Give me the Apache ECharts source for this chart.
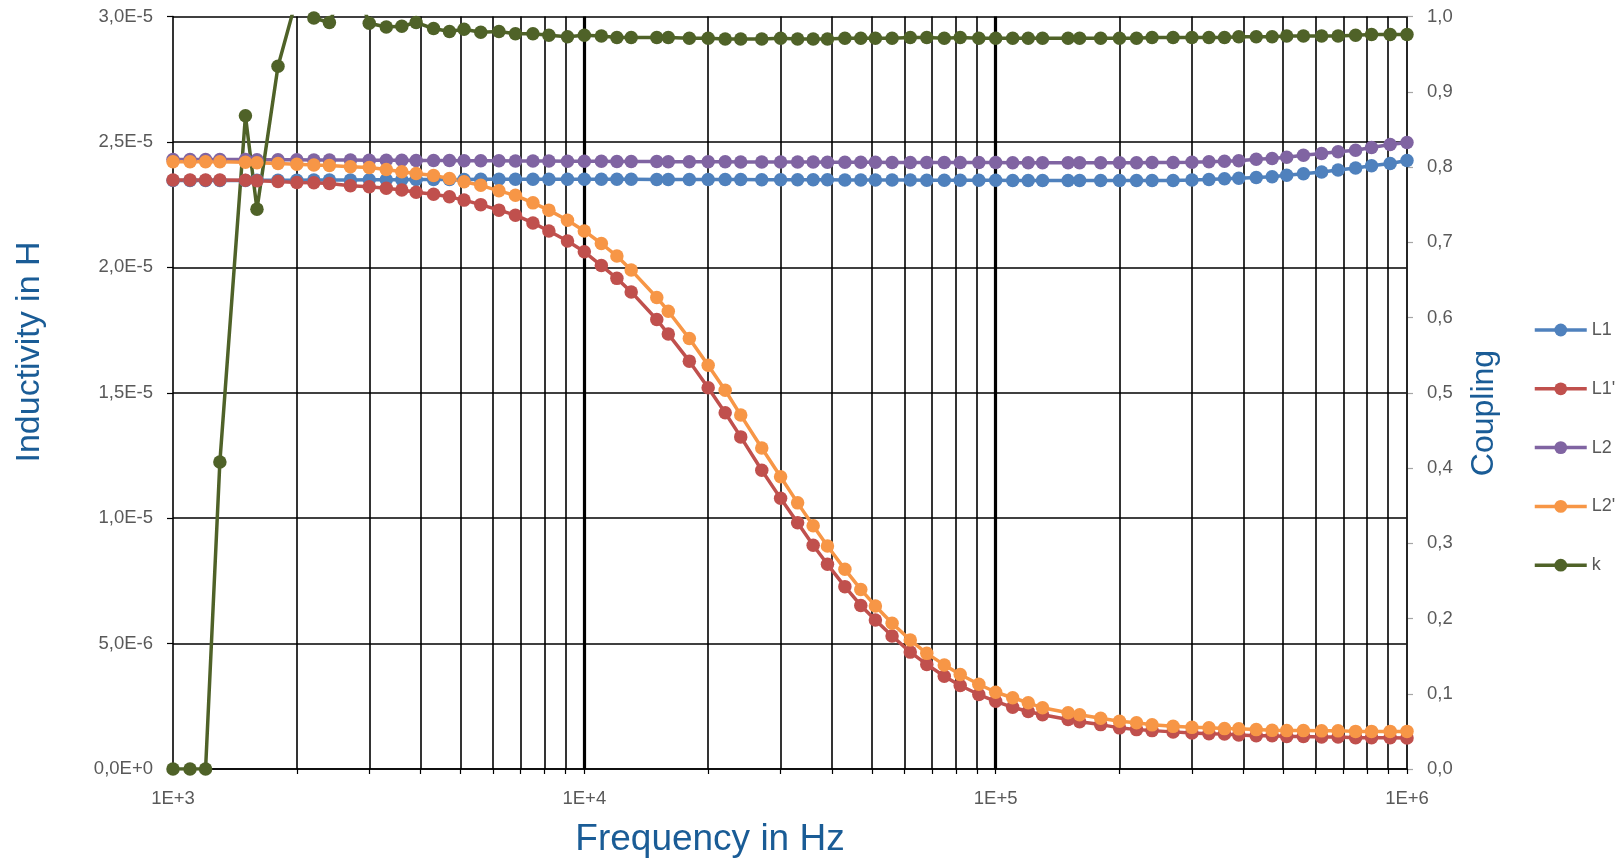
<!DOCTYPE html>
<html>
<head>
<meta charset="utf-8">
<script src="https://cdn.jsdelivr.net/npm/echarts@6/dist/echarts.min.js"></script>
<style>
  html, body { margin: 0; padding: 0; background: #fff; }
  #chart { width: 1616px; height: 867px; }
</style>
</head>
<body>
<div id="chart"></div>
<script>
// frequency points (Hz), E24 steps per decade
var freq = [
  1000, 1100, 1200, 1300, 1500, 1600, 1800, 2000, 2200, 2400, 2700, 3000,
  3300, 3600, 3900, 4300, 4700, 5100, 5600, 6200, 6800, 7500, 8200, 9100,
  10000, 11000, 12000, 13000, 15000, 16000, 18000, 20000, 22000, 24000, 27000, 30000,
  33000, 36000, 39000, 43000, 47000, 51000, 56000, 62000, 68000, 75000, 82000, 91000,
  100000, 110000, 120000, 130000, 150000, 160000, 180000, 200000, 220000, 240000, 270000, 300000,
  330000, 360000, 390000, 430000, 470000, 510000, 560000, 620000, 680000, 750000, 820000, 910000,
  1000000
];

// inductivities in H
var L1 = [
  23.46e-6, 23.46e-6, 23.46e-6, 23.46e-6, 23.46e-6, 23.47e-6, 23.47e-6, 23.47e-6, 23.48e-6, 23.48e-6, 23.48e-6, 23.49e-6,
  23.49e-6, 23.49e-6, 23.50e-6, 23.50e-6, 23.50e-6, 23.50e-6, 23.51e-6, 23.51e-6, 23.51e-6, 23.51e-6, 23.51e-6, 23.51e-6,
  23.51e-6, 23.51e-6, 23.51e-6, 23.51e-6, 23.50e-6, 23.50e-6, 23.50e-6, 23.50e-6, 23.50e-6, 23.50e-6, 23.49e-6, 23.49e-6,
  23.49e-6, 23.49e-6, 23.49e-6, 23.48e-6, 23.48e-6, 23.48e-6, 23.48e-6, 23.48e-6, 23.47e-6, 23.47e-6, 23.47e-6, 23.47e-6,
  23.47e-6, 23.46e-6, 23.46e-6, 23.46e-6, 23.46e-6, 23.46e-6, 23.46e-6, 23.46e-6, 23.46e-6, 23.46e-6, 23.46e-6, 23.48e-6,
  23.50e-6, 23.53e-6, 23.55e-6, 23.58e-6, 23.61e-6, 23.67e-6, 23.73e-6, 23.80e-6, 23.88e-6, 23.96e-6, 24.05e-6, 24.14e-6,
  24.26e-6
];
var L1s = [
  23.48e-6, 23.48e-6, 23.48e-6, 23.48e-6, 23.47e-6, 23.45e-6, 23.42e-6, 23.38e-6, 23.37e-6, 23.34e-6, 23.25e-6, 23.21e-6,
  23.15e-6, 23.08e-6, 22.99e-6, 22.91e-6, 22.81e-6, 22.68e-6, 22.50e-6, 22.28e-6, 22.08e-6, 21.77e-6, 21.45e-6, 21.05e-6,
  20.62e-6, 20.07e-6, 19.56e-6, 19.02e-6, 17.92e-6, 17.34e-6, 16.26e-6, 15.20e-6, 14.20e-6, 13.24e-6, 11.91e-6, 10.79e-6,
  9.82e-6, 8.92e-6, 8.16e-6, 7.27e-6, 6.52e-6, 5.94e-6, 5.30e-6, 4.66e-6, 4.17e-6, 3.70e-6, 3.33e-6, 2.97e-6,
  2.70e-6, 2.46e-6, 2.29e-6, 2.16e-6, 1.97e-6, 1.88e-6, 1.77e-6, 1.64e-6, 1.57e-6, 1.53e-6, 1.48e-6, 1.44e-6,
  1.41e-6, 1.40e-6, 1.36e-6, 1.33e-6, 1.33e-6, 1.30e-6, 1.30e-6, 1.28e-6, 1.28e-6, 1.25e-6, 1.25e-6, 1.25e-6,
  1.24e-6
];
var L2 = [
  24.30e-6, 24.30e-6, 24.30e-6, 24.30e-6, 24.30e-6, 24.29e-6, 24.29e-6, 24.29e-6, 24.28e-6, 24.28e-6, 24.28e-6, 24.27e-6,
  24.27e-6, 24.27e-6, 24.26e-6, 24.26e-6, 24.26e-6, 24.25e-6, 24.25e-6, 24.25e-6, 24.24e-6, 24.24e-6, 24.24e-6, 24.23e-6,
  24.23e-6, 24.23e-6, 24.22e-6, 24.22e-6, 24.22e-6, 24.21e-6, 24.21e-6, 24.21e-6, 24.21e-6, 24.20e-6, 24.20e-6, 24.20e-6,
  24.20e-6, 24.20e-6, 24.19e-6, 24.19e-6, 24.19e-6, 24.19e-6, 24.18e-6, 24.18e-6, 24.18e-6, 24.18e-6, 24.18e-6, 24.18e-6,
  24.18e-6, 24.17e-6, 24.17e-6, 24.17e-6, 24.17e-6, 24.17e-6, 24.17e-6, 24.17e-6, 24.17e-6, 24.18e-6, 24.18e-6, 24.19e-6,
  24.21e-6, 24.23e-6, 24.25e-6, 24.31e-6, 24.34e-6, 24.39e-6, 24.47e-6, 24.54e-6, 24.61e-6, 24.67e-6, 24.78e-6, 24.90e-6,
  24.98e-6
];
var L2s = [
  24.21e-6, 24.21e-6, 24.21e-6, 24.21e-6, 24.19e-6, 24.17e-6, 24.14e-6, 24.11e-6, 24.08e-6, 24.06e-6, 24.01e-6, 23.98e-6,
  23.90e-6, 23.81e-6, 23.74e-6, 23.66e-6, 23.54e-6, 23.41e-6, 23.27e-6, 23.05e-6, 22.87e-6, 22.57e-6, 22.28e-6, 21.88e-6,
  21.45e-6, 20.95e-6, 20.45e-6, 19.89e-6, 18.80e-6, 18.25e-6, 17.16e-6, 16.10e-6, 15.10e-6, 14.11e-6, 12.80e-6, 11.65e-6,
  10.61e-6, 9.70e-6, 8.89e-6, 7.96e-6, 7.16e-6, 6.50e-6, 5.81e-6, 5.14e-6, 4.61e-6, 4.15e-6, 3.77e-6, 3.38e-6,
  3.06e-6, 2.84e-6, 2.64e-6, 2.44e-6, 2.24e-6, 2.16e-6, 2.02e-6, 1.90e-6, 1.84e-6, 1.76e-6, 1.70e-6, 1.66e-6,
  1.64e-6, 1.61e-6, 1.60e-6, 1.57e-6, 1.54e-6, 1.53e-6, 1.53e-6, 1.52e-6, 1.52e-6, 1.50e-6, 1.50e-6, 1.50e-6,
  1.50e-6
];
// coupling factor (right axis), values above 1 are cut off at the top like in the original
var k = [
  0, 0, 0, 0.408, 0.868, 0.744, 0.934, 1.025, 0.998, 0.992, 1.06, 0.991,
  0.986, 0.987, 0.992, 0.984, 0.980, 0.983, 0.979, 0.980, 0.977, 0.977, 0.975, 0.973,
  0.975, 0.974, 0.972, 0.972, 0.972, 0.972, 0.971, 0.971, 0.970, 0.970, 0.970, 0.971,
  0.970, 0.970, 0.970, 0.971, 0.971, 0.971, 0.971, 0.972, 0.972, 0.971, 0.972, 0.971,
  0.971, 0.971, 0.971, 0.971, 0.971, 0.971, 0.971, 0.971, 0.971, 0.972, 0.972, 0.972,
  0.972, 0.972, 0.973, 0.973, 0.973, 0.974, 0.974, 0.974, 0.974, 0.975, 0.976, 0.976,
  0.976
];

// axis ticks
var xLabelTicks = [1000, 10000, 100000, 1000000];
var xMinorTicks = [
  1000, 2000, 3000, 4000, 5000, 6000, 7000, 8000, 9000,
  10000, 20000, 30000, 40000, 50000, 60000, 70000, 80000, 90000,
  100000, 200000, 300000, 400000, 500000, 600000, 700000, 800000, 900000,
  1000000
];
var xMajorGrid = [10000, 100000];

var names = ['L1', "L1'", 'L2', "L2'", 'k'];
var colors = ['#4F81BD', '#C0504D', '#8064A2', '#F79646', '#4F6228'];

function pairs(ys) {
  var out = [];
  for (var i = 0; i < freq.length; i++) {
    out.push([freq[i], ys[i]]);
  }
  return out;
}

// vertical grid lines of the log axis (1..9 per decade)
var gridLines = [];
for (var i = 0; i < xMinorTicks.length; i++) {
  var v = xMinorTicks[i];
  if (v === 1000) continue;
  var major = xMajorGrid.indexOf(v) >= 0;
  gridLines.push({ xAxis: v, lineStyle: { color: '#000', width: major ? 3.2 : 1.6, type: 'solid' } });
}

var myChart = echarts.init(document.getElementById('chart'));

function makeSeries(idx, ys, axisIdx) {
  var s = {
    name: names[idx],
    type: 'line',
    yAxisIndex: axisIdx,
    data: pairs(ys),
    symbol: 'circle',
    symbolSize: 13.5,
    showAllSymbol: true,
    clip: true,
    itemStyle: { color: colors[idx] },
    lineStyle: { color: colors[idx], width: 3.5 },
    emphasis: { disabled: true }
  };
  return s;
}

var series = [
  makeSeries(0, L1, 0),
  makeSeries(1, L1s, 0),
  makeSeries(2, L2, 0),
  makeSeries(3, L2s, 0),
  makeSeries(4, k, 1)
];
series[0].markLine = {
  z: 1,
  silent: true,
  symbol: ['none', 'none'],
  label: { show: false },
  animation: false,
  data: gridLines
};

var titleColor = '#1A5C96';
var tickFont = 'Liberation Sans';

var option = {
  animation: false,
  backgroundColor: '#fff',
  grid: { left: 173, right: 209, top: 16.5, bottom: 98, containLabel: false },
  legend: {
    orient: 'vertical',
    left: 1528,
    top: 316,
    itemWidth: 52,
    itemHeight: 16,
    itemGap: 40.8,
    data: names,
    lineStyle: { width: 3.5 },
    textStyle: { color: '#595959', fontSize: 18, fontFamily: tickFont }
  },
  xAxis: {
    type: 'log',
    logBase: 10,
    min: 1000,
    max: 1000000,
    axisLine: { show: true, lineStyle: { color: '#000', width: 1.6 } },
    axisTick: { show: true, customValues: xMinorTicks, length: 5, lineStyle: { color: '#000', width: 1.2 } },
    splitLine: { show: false },
    axisLabel: {
      customValues: xLabelTicks,
      margin: 20,
      color: '#595959',
      fontSize: 18.5,
      fontFamily: tickFont,
      formatter: function (v) {
        return '1E+' + Math.round(Math.log10(v));
      }
    }
  },
  yAxis: [
    {
      type: 'value',
      min: 0,
      max: 3e-5,
      interval: 5e-6,
      position: 'left',
      axisLine: { show: true, lineStyle: { color: '#000', width: 1.6 } },
      axisTick: { show: true, length: 6, lineStyle: { color: '#000', width: 1.2 } },
      splitLine: { show: true, lineStyle: { color: '#000', width: 1.6 } },
      axisLabel: {
        margin: 20,
        color: '#595959',
        fontSize: 18.5,
        fontFamily: tickFont,
        formatter: function (v) {
          return v.toExponential(1).replace('.', ',').replace('e', 'E');
        }
      }
    },
    {
      type: 'value',
      min: 0,
      max: 1,
      interval: 0.1,
      position: 'right',
      axisLine: { show: true, lineStyle: { color: '#A6A6A6', width: 1.6 } },
      axisTick: { show: true, length: 6, lineStyle: { color: '#A6A6A6', width: 1.2 } },
      splitLine: { show: false },
      axisLabel: {
        margin: 20,
        color: '#595959',
        fontSize: 18.5,
        fontFamily: tickFont,
        formatter: function (v) {
          return v.toFixed(1).replace('.', ',');
        }
      }
    }
  ],
  graphic: [
    {
      type: 'text', x: 30, y: 352, rotation: Math.PI / 2,
      style: { text: 'Inductivity in H', fill: titleColor, font: '34px "Liberation Sans"', align: 'center', verticalAlign: 'middle' }
    },
    {
      type: 'text', x: 1484, y: 413, rotation: Math.PI / 2,
      style: { text: 'Coupling', fill: titleColor, font: '32px "Liberation Sans"', align: 'center', verticalAlign: 'middle' }
    },
    {
      type: 'text', x: 710, y: 840,
      style: { text: 'Frequency in Hz', fill: titleColor, font: '37px "Liberation Sans"', align: 'center', verticalAlign: 'middle' }
    }
  ],
  series: series
};

myChart.setOption(option);
</script>
</body>
</html>
